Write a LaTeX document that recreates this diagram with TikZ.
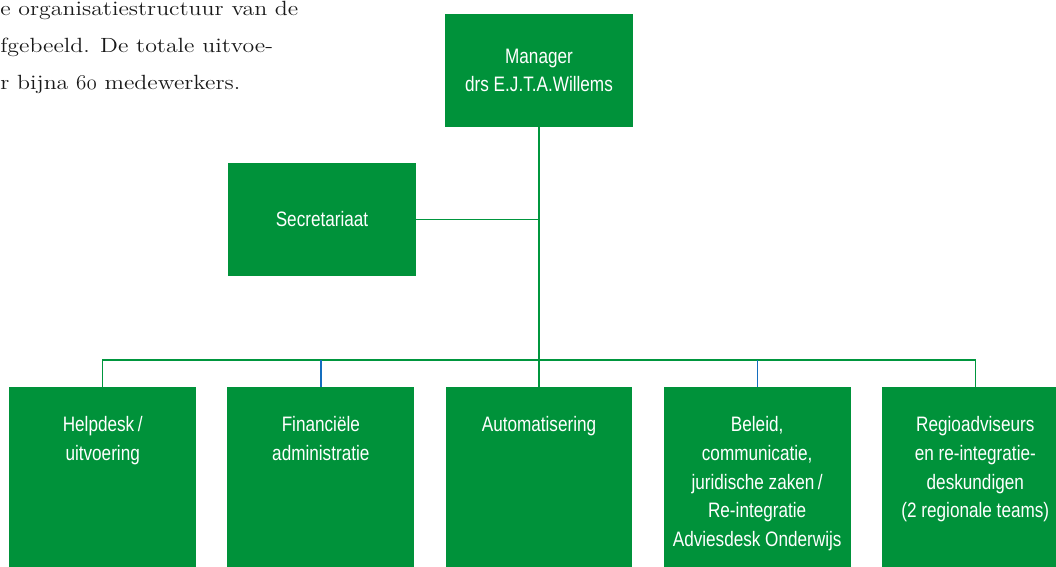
\documentclass[tikz,border=0pt]{standalone}
\usepackage{fontspec}
\newfontfamily\orgfont[FakeStretch=0.82]{Liberation Sans}
\newfontfamily\introfont[FakeStretch=1.16]{Latin Modern Roman}
\usetikzlibrary{positioning}
\definecolor{orggreen}{RGB}{0,146,58}
\definecolor{linkgreen}{RGB}{0,150,62}
\definecolor{linkblue}{RGB}{20,110,190}

\tikzset{
  orgbox/.style={fill=orggreen, minimum width=3.76cm, minimum height=2.26cm,
    inner sep=0pt, text=white, align=center,
    font=\orgfont\fontsize{11.9pt}{16.4pt}\selectfont},
  unitbox/.style={fill=orggreen, minimum width=3.74cm, minimum height=4cm,
    inner sep=0pt, anchor=north},
  unittext/.style={text=white, align=center, inner sep=0pt,
    font=\orgfont\fontsize{11.9pt}{16.4pt}\selectfont},
  link/.style={draw=linkgreen, line width=0.75pt},
  bluelink/.style={draw=linkblue, line width=0.75pt},
  introtext/.style={anchor=base west, inner sep=0pt, text=black!90,
    font=\introfont\fontsize{11.7pt}{21pt}\selectfont},
}

\begin{document}
\begin{tikzpicture}[x=0.02cm,y=-0.02cm]
  \useasboundingbox (0,0) rectangle (1056,567);
  \clip (0,0) rectangle (1056,567);
  % lopende tekst
  \node[introtext] (intro1) at (0,16) {e organisatiestructuur van de};
  \node[introtext] (intro2) at (0,53) {fgebeeld. De totale uitvoe-};
  \node[introtext] (intro3) at (0,90) {r bijna {\usefont{OML}{cmm}{m}{it}60} medewerkers.};
  %
  \node[orgbox] (manager) at (539,70.5) {Manager\\drs E.J.T.A.Willems};
  \node[orgbox] (secr) at (322,219.5) {Secretariaat};
  %
  \node[unitbox] (auto) at (539,387) {};
  \node[unitbox, left=0.61cm of auto] (fin) {};
  \node[unitbox, left=0.61cm of fin] (help) {};
  \node[unitbox, right=0.61cm of auto] (beleid) {};
  \node[unitbox, right=0.61cm of beleid] (regio) {};
  %
  \node[unittext, below=0.58cm of help.north, anchor=north] (helptext) {Helpdesk\,/\\uitvoering};
  \node[unittext, below=0.58cm of fin.north, anchor=north] (fintext) {Financi\"ele\\administratie};
  \node[unittext, below=0.58cm of auto.north, anchor=north] (autotext) {Automatisering};
  \node[unittext, below=0.58cm of beleid.north, anchor=north] (beleidtext)
    {Beleid,\\communicatie,\\juridische zaken\,/\\Re-integratie\\Adviesdesk Onderwijs};
  \node[unittext, below=0.58cm of regio.north, anchor=north] (regiotext)
    {Regioadviseurs\\en re-integratie-\\deskundigen\\(2 regionale teams)};
  %
  \coordinate (bus) at (539,360);
  \draw[link] (manager.south) -- (auto.north);
  \draw[link] (secr.east) -- (secr.east -| manager.south);
  \draw[link] (help.north) |- (bus) -| (regio.north);
  \draw[bluelink] (fin.north) -- (fin.north |- bus);
  \draw[bluelink] (beleid.north) -- (beleid.north |- bus);
\end{tikzpicture}
\end{document}
